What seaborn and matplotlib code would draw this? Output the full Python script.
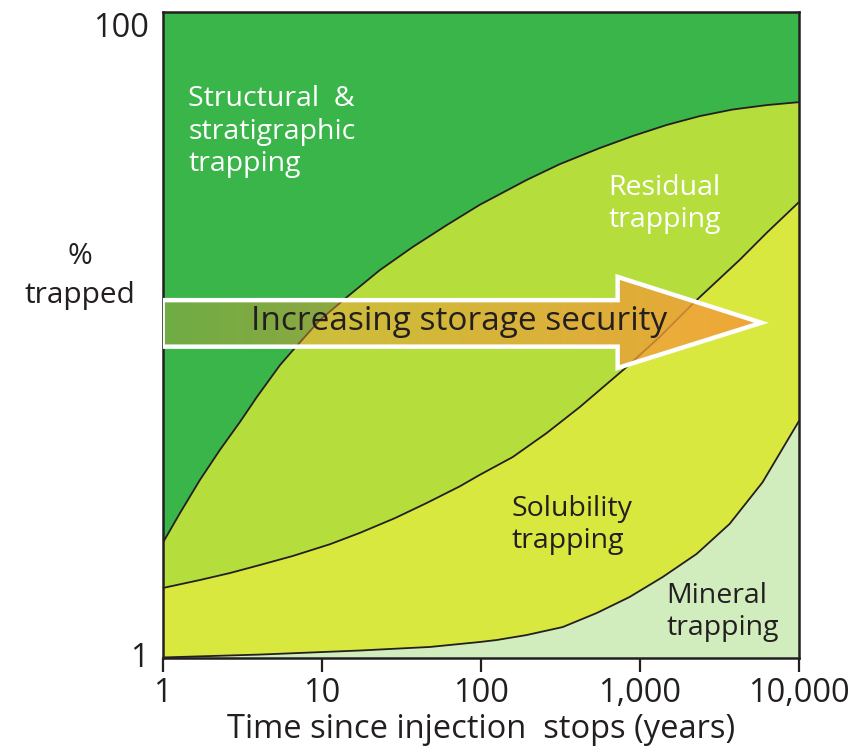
import numpy as np
import matplotlib.pyplot as plt
import seaborn as sns
from matplotlib.patches import Polygon
from matplotlib.colors import LinearSegmentedColormap

# boundaries: time (years) vs % trapped
upper_t = [1, 1.284, 1.715, 2.29, 3.06, 3.91, 5.46, 6.78, 9.73, 14.4, 23.2, 37.3,
           61.1, 98.4, 194, 313, 558, 900, 1472, 2371, 3822, 6251, 10000]
upper_pct = [2.27, 2.81, 3.56, 4.41, 5.38, 6.43, 8.07, 9.12, 11.13, 13.11, 15.89, 18.73,
             21.9, 25.3, 30.2, 33.8, 37.9, 41.3, 44.7, 47.6, 49.9, 51.5, 52.6]

middle_t = [1, 1.715, 2.65, 4.09, 6.58, 11.24, 17.35, 28.8, 45.7, 73.7, 98.4, 158.6,
            259, 418, 825, 1330, 2271, 4229, 6251, 10000]
middle_pct = [1.647, 1.744, 1.833, 1.941, 2.07, 2.25, 2.44, 2.71, 3.02, 3.40, 3.69, 4.19,
              4.97, 5.98, 7.96, 9.86, 12.83, 17.07, 20.7, 25.8]

lower_t = [1, 4.09, 17.35, 47.8, 98.4, 125.9, 194, 327, 535, 861, 1389, 2271, 3659,
           5899, 10000]
lower_pct = [1.004, 1.025, 1.055, 1.082, 1.121, 1.137, 1.178, 1.247, 1.378, 1.545, 1.781,
             2.10, 2.60, 3.50, 5.42]

x_ticks = [1, 10, 100, 1000, 10000]
x_labels = ["1", "10", "100", "1,000", "10,000"]

C_STRUCT = "#39b54a"
C_RESID = "#b5dd3c"
C_SOLUB = "#d9e83e"
C_MINER = "#d1edbe"
DARK = "#231f20"

sns.set_theme(style="white")
plt.rcParams["font.family"] = ["Open Sans", "DejaVu Sans"]

fig = plt.figure(figsize=(8.54, 7.56), dpi=100)
ax = fig.add_axes([0.1905, 0.1296, 0.7451, 0.8545])
ax.set_xscale("log")
ax.set_yscale("log")
ax.set_xlim(1, 10000)
ax.set_ylim(1, 100)

# filled regions
ax.fill(upper_t + [10000, 1], upper_pct + [100, 100], color=C_STRUCT, lw=0)
ax.fill(upper_t + middle_t[::-1], upper_pct + middle_pct[::-1], color=C_RESID, lw=0)
ax.fill(middle_t + lower_t[::-1], middle_pct + lower_pct[::-1], color=C_SOLUB, lw=0)
ax.fill(lower_t + [10000, 1], lower_pct + [1, 1], color=C_MINER, lw=0)

for t, p in [(upper_t, upper_pct), (middle_t, middle_pct), (lower_t, lower_pct)]:
    sns.lineplot(x=t, y=p, ax=ax, color=DARK, lw=1.3, sort=False, estimator=None)

# arrow
arrow_xy = [(0.0, 0.554), (0.715, 0.554), (0.715, 0.590), (0.941, 0.519),
            (0.715, 0.449), (0.715, 0.482), (0.0, 0.482)]
cmap = LinearSegmentedColormap.from_list(
    "arr", [(0.90, 0.60, 0.22, 0.32), (0.95, 0.62, 0.22, 0.88)])
grad = np.linspace(0, 1, 256).reshape(1, -1)
im = ax.imshow(grad, cmap=cmap, extent=[0, 0.941, 0.449, 0.590],
               transform=ax.transAxes, aspect="auto", zorder=3)
clip = Polygon(arrow_xy, closed=True, transform=ax.transAxes, fc="none", ec="none")
ax.add_patch(clip)
im.set_clip_path(clip)
ax.add_patch(Polygon(arrow_xy, closed=True, transform=ax.transAxes, fill=False,
                     ec="white", lw=3.2, joinstyle="miter", zorder=4))
ax.text(0.466, 0.521, "Increasing storage security", transform=ax.transAxes,
        ha="center", va="center", fontsize=24, color=DARK, zorder=5)

# region labels
lab = dict(ha="left", va="top", fontsize=20.5, linespacing=1.22)
ax.text(0.04, 0.887, "Structural  &\nstratigraphic\ntrapping", transform=ax.transAxes,
        color="white", **lab)
ax.text(0.70, 0.750, "Residual\ntrapping", transform=ax.transAxes,
        color="white", **lab)
ax.text(0.548, 0.253, "Solubility\ntrapping", transform=ax.transAxes,
        color=DARK, **lab)
ax.text(0.792, 0.118, "Mineral\ntrapping", transform=ax.transAxes,
        color=DARK, **lab)

# axes styling
ax.set_xticks(x_ticks)
ax.set_xticklabels(x_labels)
ax.minorticks_off()
ax.tick_params(axis="x", direction="out", length=10, width=1.6, color=DARK,
               labelsize=23.5, labelcolor=DARK, pad=4, bottom=True)
ax.set_yticks([1, 100])
ax.set_yticklabels(["1", "100"])
ax.tick_params(axis="y", length=0, labelsize=23.5, labelcolor=DARK, pad=10)
ax.get_yticklabels()[1].set_va("top")
ax.get_yticklabels()[0].set_va("center")
for s in ax.spines.values():
    s.set_color(DARK)
    s.set_linewidth(1.8)
ax.set_xlabel("Time since injection  stops (years)", fontsize=23.5, color=DARK,
              labelpad=2)
fig.text(0.094, 0.635, "%\ntrapped", ha="center", va="center", fontsize=21.5,
         color=DARK, linespacing=1.45)

fig.savefig("out.png", dpi=100)
